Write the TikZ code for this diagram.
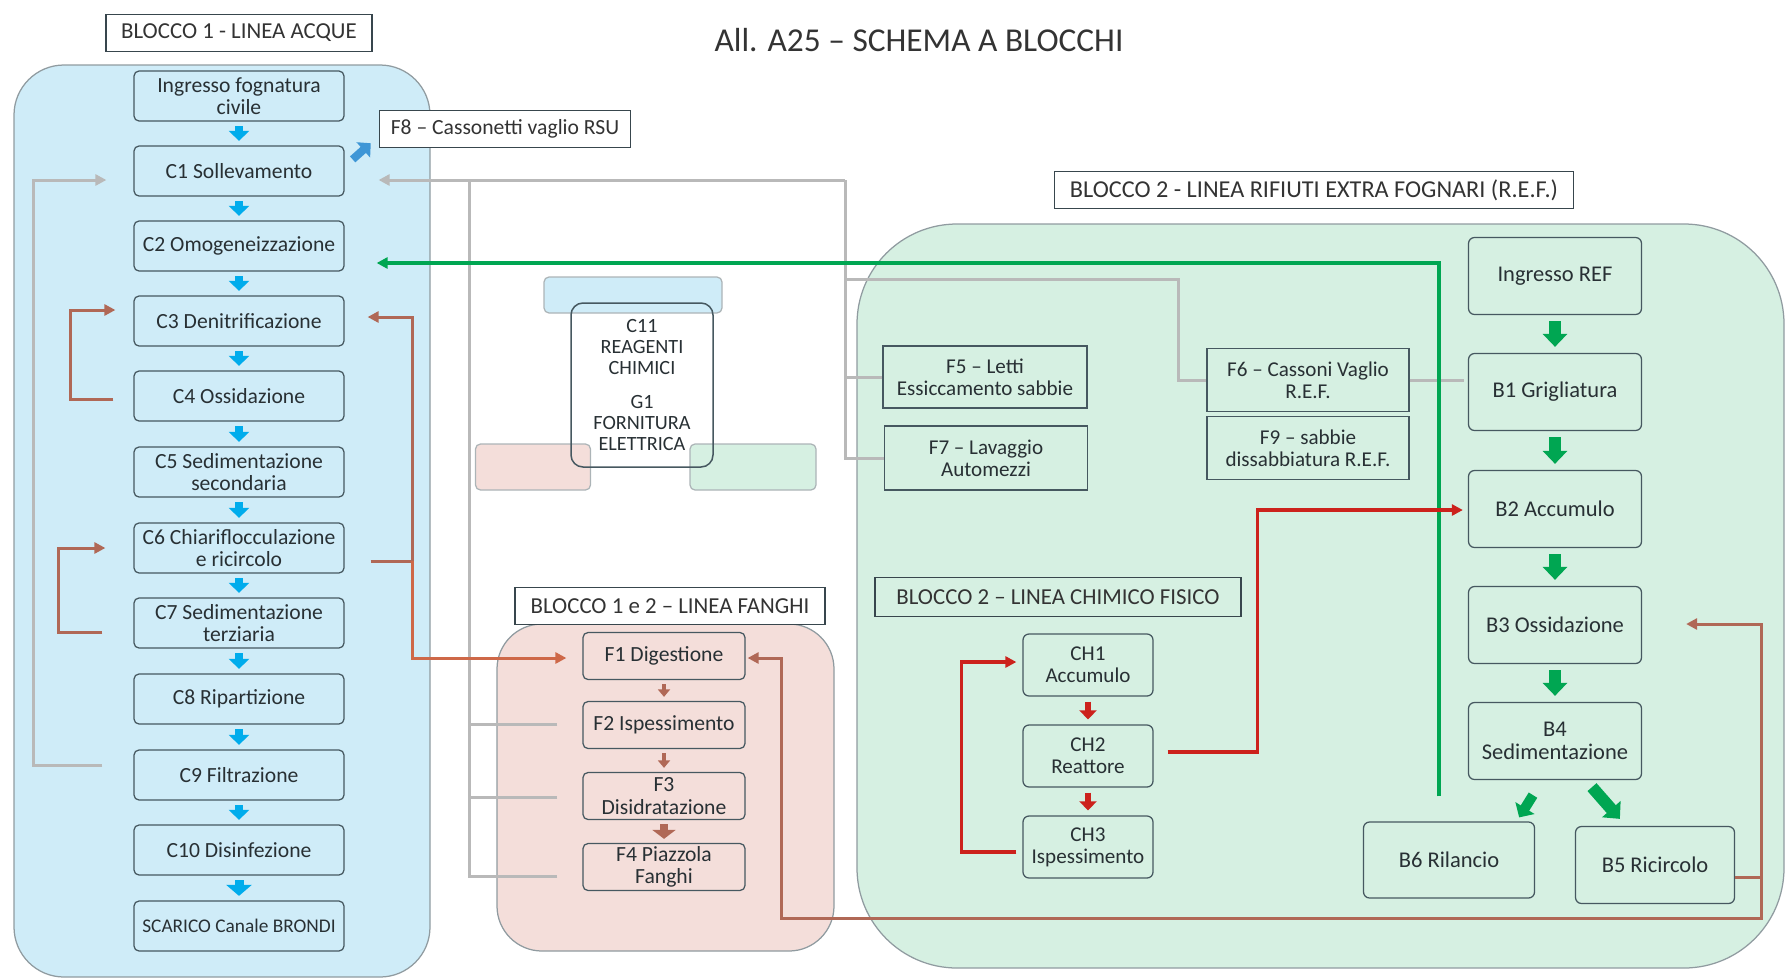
\documentclass[tikz,border=0pt]{standalone}
\usepackage{fontspec}
\setmainfont{Carlito}
\usepackage{tikz}
\usetikzlibrary{arrows.meta,calc}

\definecolor{acqua}{RGB}{207,236,248}
\definecolor{fango}{RGB}{244,222,218}
\definecolor{rifiuti}{RGB}{214,240,226}
\definecolor{bordo}{RGB}{70,88,96}
\definecolor{testo}{RGB}{40,48,52}
\definecolor{blu}{RGB}{0,172,236}
\definecolor{blus}{RGB}{62,150,214}
\definecolor{grigio}{RGB}{185,185,185}
\definecolor{verde}{RGB}{0,166,82}
\definecolor{marrone}{RGB}{176,104,86}
\definecolor{arancio}{RGB}{206,104,72}
\definecolor{rosso}{RGB}{204,34,28}

\newcommand{\boxfont}{\fontsize{12.3}{12.8}\selectfont}
\newcommand{\labelfont}{\fontsize{13}{14}\selectfont}

\tikzset{
  >={Triangle[length=2.2mm,width=2.2mm]},
  blocco/.style={draw=bordo, line width=0.25mm, text=testo, font=\boxfont, align=center, inner sep=1pt},
  acquabox/.style={blocco, fill=acqua, rounded corners=1mm, minimum width=42mm, minimum height=10mm},
  fangobox/.style={blocco, fill=fango, rounded corners=1mm, minimum width=32.4mm, minimum height=9.4mm},
  refbox/.style={blocco, fill=rifiuti, rounded corners=1.2mm, minimum width=34.6mm, minimum height=15.4mm, font=\fontsize{12.8}{13.3}\selectfont},
  chbox/.style={blocco, fill=rifiuti, rounded corners=1.2mm, minimum width=26mm, minimum height=12.4mm, font=\fontsize{12}{12.6}\selectfont},
  deposito/.style={blocco, fill=rifiuti, minimum width=40.6mm, minimum height=12.6mm, font=\fontsize{12}{12.6}\selectfont},
  etichetta/.style={draw=bordo!80!black, line width=0.3mm, fill=white, text=black!80, font=\labelfont, minimum height=7.4mm, inner sep=2pt},
  pannello/.style={draw=bordo!60, line width=0.25mm},
  legenda/.style={draw=bordo!45, line width=0.25mm, rounded corners=1mm},
  frecciablu/.style={draw=blu, line width=1.6mm, -{Triangle[length=2mm,width=4mm]}, shorten <=0.9mm, shorten >=0.9mm},
  frecciaverde/.style={draw=verde, line width=2.4mm, -{Triangle[length=2.6mm,width=4.8mm]}, shorten <=1.2mm, shorten >=1.2mm},
  frecciarossa/.style={draw=rosso, line width=1.3mm, -{Triangle[length=1.8mm,width=3.4mm]}, shorten <=1mm, shorten >=1mm},
  frecciafango/.style={draw=marrone, line width=0.9mm, -{Triangle[length=1.5mm,width=2.4mm]}, shorten <=0.8mm, shorten >=0.8mm},
  grigia/.style={draw=grigio, line width=0.6mm},
  verdelinea/.style={draw=verde, line width=0.7mm},
  marronelinea/.style={draw=marrone, line width=0.6mm},
  aranciolinea/.style={draw=arancio, line width=0.6mm},
  rossolinea/.style={draw=rosso, line width=0.7mm}
}

\begin{document}
\begin{tikzpicture}[x=0.2mm,y=-0.2mm]
\useasboundingbox (0,0) rectangle (1786,978);

\draw[pannello, fill=acqua, rounded corners=10mm] (14,65) rectangle (430,977);
\draw[pannello, fill=fango, rounded corners=9mm] (497,624) rectangle (834,951);
\draw[pannello, fill=rifiuti, rounded corners=20mm] (857,224) rectangle (1784,968);

\node[font=\fontsize{19}{22}\selectfont, text=black!80] (titolo) at (919,40) {All. A25 – SCHEMA A BLOCCHI};
\node[etichetta, minimum width=53.2mm] (LB1) at (239,33) {BLOCCO 1 - LINEA ACQUE};
\node[etichetta, minimum width=50.2mm, font=\boxfont] (F8) at (505,129) {F8 – Cassonetti vaglio RSU};
\node[etichetta, minimum width=103.8mm, font=\fontsize{13.8}{15}\selectfont] (LB2) at (1314,190) {BLOCCO 2 - LINEA RIFIUTI EXTRA FOGNARI (R.E.F.)};
\node[etichetta, minimum width=62mm] (LB12) at (670,606) {BLOCCO 1 e 2 – LINEA FANGHI};
\node[etichetta, fill=rifiuti, minimum width=73.2mm, minimum height=7.8mm] (LB2C) at (1058,597) {BLOCCO 2 – LINEA CHIMICO FISICO};

\node[acquabox] (ING) at (239,96) {Ingresso fognatura\\civile};
\node[acquabox] (C1) at (239,171) {C1 Sollevamento};
\node[acquabox] (C2) at (239,246) {C2 Omogeneizzazione};
\node[acquabox] (C3) at (239,321) {C3 Denitrificazione};
\node[acquabox] (C4) at (239,396) {C4 Ossidazione};
\node[acquabox] (C5) at (239,472) {C5 Sedimentazione\\secondaria};
\node[acquabox] (C6) at (239,548) {C6 Chiariflocculazione\\e ricircolo};
\node[acquabox] (C7) at (239,623) {C7 Sedimentazione\\terziaria};
\node[acquabox] (C8) at (239,699) {C8 Ripartizione};
\node[acquabox] (C9) at (239,775) {C9 Filtrazione};
\node[acquabox] (C10) at (239,850) {C10 Disinfezione};
\node[acquabox, font=\fontsize{11}{12}\selectfont] (SC) at (239,926) {SCARICO Canale BRONDI};

\node[legenda, fill=acqua, minimum width=35.6mm, minimum height=7.2mm] (LEGA) at (633,295) {};
\node[legenda, fill=fango, minimum width=23mm, minimum height=9.2mm] (LEGF) at (533,467) {};
\node[legenda, fill=rifiuti, minimum width=25.2mm, minimum height=9.2mm] (LEGR) at (753,467) {};
\node[draw=bordo, line width=0.3mm, rounded corners=2.4mm, minimum width=28.4mm, minimum height=32.8mm, text=testo, align=center, font=\fontsize{11.5}{12}\selectfont] (C11) at (642,385) {C11\\REAGENTI\\CHIMICI\\[2.4mm]G1\\FORNITURA\\ELETTRICA};

\node[fangobox] (F1) at (664,656) {F1 Digestione};
\node[fangobox] (F2) at (664,725) {F2 Ispessimento};
\node[fangobox] (F3) at (664,796) {F3\\Disidratazione};
\node[fangobox] (F4) at (664,867) {F4 Piazzola\\Fanghi};

\node[deposito, minimum width=40.8mm, minimum height=12.4mm] (F5) at (985,377) {F5 – Letti\\Essiccamento sabbie};
\node[deposito, minimum height=12.8mm] (F7) at (986,458) {F7 – Lavaggio\\Automezzi};
\node[deposito, minimum width=40.4mm] (F6) at (1308,380) {F6 – Cassoni Vaglio\\R.E.F.};
\node[deposito, minimum width=40.4mm] (F9) at (1308,448) {F9 – sabbie\\dissabbiatura R.E.F.};

\node[chbox] (CH1) at (1088,665) {CH1\\Accumulo};
\node[chbox] (CH2) at (1088,756) {CH2\\Reattore};
\node[chbox] (CH3) at (1088,847) {CH3\\Ispessimento};

\node[refbox] (RIN) at (1555,276) {Ingresso REF};
\node[refbox] (B1) at (1555,392) {B1 Grigliatura};
\node[refbox] (B2) at (1555,509) {B2 Accumulo};
\node[refbox] (B3) at (1555,625) {B3 Ossidazione};
\node[refbox] (B4) at (1555,741) {B4\\Sedimentazione};
\node[refbox, minimum width=34.2mm, minimum height=15.2mm] (B6) at (1449,860) {B6 Rilancio};
\node[refbox, minimum width=31.8mm] (B5) at (1655,865) {B5 Ricircolo};

\draw[frecciablu] (ING) -- (C1);
\draw[frecciablu] (C1) -- (C2);
\draw[frecciablu] (C2) -- (C3);
\draw[frecciablu] (C3) -- (C4);
\draw[frecciablu] (C4) -- (C5);
\draw[frecciablu] (C5) -- (C6);
\draw[frecciablu] (C6) -- (C7);
\draw[frecciablu] (C7) -- (C8);
\draw[frecciablu] (C8) -- (C9);
\draw[frecciablu] (C9) -- (C10);
\draw[frecciablu, line width=1.8mm, -{Triangle[length=2.2mm,width=5mm]}] (C10) -- (SC);
\draw[frecciablu, draw=blus, shorten <=0pt, shorten >=0pt] ($(C1.north east)+(8,14)$) -- ($(F8.south west)+(-8,-5)$);

\draw[frecciafango] (F1) -- (F2);
\draw[frecciafango] (F2) -- (F3);
\draw[frecciafango, line width=1.6mm, -{Triangle[length=1.8mm,width=4.6mm]}] (F3) -- (F4);

\draw[frecciarossa] (CH1) -- (CH2);
\draw[frecciarossa] (CH2) -- (CH3);

\draw[frecciaverde] (RIN) -- (B1);
\draw[frecciaverde] (B1) -- (B2);
\draw[frecciaverde] (B2) -- (B3);
\draw[frecciaverde] (B3) -- (B4);
\draw[frecciaverde, line width=2mm, -{Triangle[length=2.2mm,width=4.4mm]}, shorten <=0pt, shorten >=0pt] ($(B4.south)+(-22,15)$) -- ($(B6.north east)+(-16,-4)$);
\draw[frecciaverde, shorten <=0pt, shorten >=0pt] ($(B4.south)+(37,7)$) -- ($(B5.north west)+(45,-7)$);

\coordinate (nodo) at (845,180);
\draw[grigia,->] ($(C9.west)+(-31,-10)$) -- ++(-69,0) |- ($(C1.west)+(-27,9)$);
\draw[grigia,->] (nodo) -- ($(C1.east)+(34,9)$);
\draw[grigia] ($(F4.west)+(-25,9)$) -| ($(C1.east)+(125,9)$);
\draw[grigia] ($(F3.west)+(-25,1)$) -- ++(-89,0);
\draw[grigia] ($(F2.west)+(-25,-1)$) -- ++(-89,0);
\draw[grigia] (nodo) |- (F7.west);
\draw[grigia] (F5.west) -- (F5.west -| nodo);
\draw[grigia] ($(nodo)+(0,99)$) -| ($(F6.west)+(-28,0)$) -- (F6.west);
\draw[grigia, shorten >=0.8mm] (F6.east) -- (F6.east -| B1.west);

\draw[verdelinea,->] ($(B6.north)+(-10,-25)$) |- ($(C2.east)+(32,17)$);

\draw[marronelinea,->] ($(C4.west)+(-20,3)$) -- ++(-43,0) |- ($(C3.west)+(-18,-11)$);
\draw[marronelinea,->] ($(C7.west)+(-31,9)$) -- ++(-44,0) |- ($(C6.west)+(-28,0)$);
\draw[marronelinea,->] ($(C6.east)+(26,13)$) -- ++(42,0) |- ($(C3.east)+(23,-4)$);
\draw[aranciolinea,->] ($(C6.east)+(68,13)$) |- ($(F1.west)+(-16,2)$);
\draw[marronelinea,->] ($(B5.east)+(0,12)$) -- ++(26,0) |- ($(B3.east)+(44,-1)$);
\draw[marronelinea,->] ($(B5.east)+(26,12)$) -- ++(0,41) -| ($(F1.east)+(36,2)$) -- ($(F1.east)+(2,2)$);

\draw[rossolinea,->] ($(CH3.west)+(-6,5)$) -- ++(-55,0) |- ($(CH1.west)+(-6,-3)$);
\draw[rossolinea,->] ($(CH2.east)+(14,-4)$) -- ++(90,0) |- ($(B2.west)+(-5,1)$);
\end{tikzpicture}
\end{document}
